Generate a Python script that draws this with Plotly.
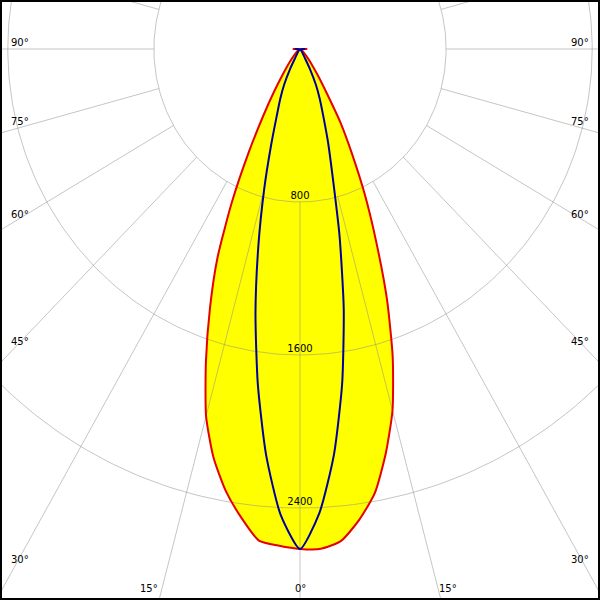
import numpy as np
import plotly.graph_objects as go

# ---- data ----
gamma = [0, 2.5, 5, 7.5, 10, 12.5, 15, 17.5, 20, 22.5, 25, 27.5, 30, 32.5, 35,
         37.5, 40, 42.5, 45, 50, 55, 60, 75, 90]
# C0-C180 plane (red, filled)
c0 = [2614, 2616, 2582, 2483, 2358, 2168, 1957, 1688, 1392, 1090, 840, 615, 440, 268, 180,
      120, 85, 56, 40, 25, 12, 4, 1, 40]
c180 = [2614, 2600, 2580, 2470, 2345, 2188, 1987, 1713, 1441, 1180, 880, 605, 400, 265, 175,
        120, 85, 56, 40, 25, 12, 4, 1, 40]
# C90-C270 plane (blue)
c90 = [2614, 2437, 2130, 1769, 1404, 1053, 757, 525, 372, 283, 205, 118, 45, 28, 18,
       13, 9, 7, 5, 4, 3, 2, 1, 28]
c270 = [2614, 2429, 2130, 1767, 1379, 1000, 690, 510, 372, 283, 205, 118, 45, 28, 18,
        13, 9, 7, 5, 4, 3, 2, 1, 28]

ring_values = [800, 1600, 2400]
ring_labels = ["800", "1600", "2400"]
side_angles = [90, 75, 60, 45, 30]
bottom_angles = [15, 0]

# ---- geometry (pixel scale of the reference) ----
SX = 146.1 / 800.0   # px per cd horizontally
SY = 153.0 / 800.0   # px per cd vertically
CX, CY = 300.0, 49.0  # centre of the diagram in page px
M = 2                 # black frame


def dx(px):
    return (px - CX) / SX


def dy(py):
    return -(py - CY) / SY


def polar_xy(vals, angs):
    a = np.radians(np.asarray(angs, dtype=float))
    v = np.asarray(vals, dtype=float)
    return v * np.sin(a), -v * np.cos(a)


g = np.asarray(gamma, dtype=float)

# red closed curve: left half (C180) then right half (C0)
angs_red = list(-g[::-1]) + list(g[1:])
vals_red = list(np.asarray(c180)[::-1]) + list(c0[1:])
xr, yr = polar_xy(vals_red, angs_red)

angs_blue = list(-g[::-1]) + list(g[1:])
vals_blue = list(np.asarray(c90)[::-1]) + list(c270[1:])
xb, yb = polar_xy(vals_blue, angs_blue)

# grid
gx, gy = [], []
t = np.radians(np.arange(0, 361, 1))
for R in ring_values:
    gx += list(R * np.sin(t)) + [None]
    gy += list(R * np.cos(t)) + [None]
for a in range(0, 360, 15):
    ar = np.radians(a)
    gx += [ring_values[0] * np.sin(ar), 5000 * np.sin(ar), None]
    gy += [-ring_values[0] * np.cos(ar), -5000 * np.cos(ar), None]

fig = go.Figure()
fig.add_trace(go.Scatter(x=xr, y=yr, mode="lines", fill="toself", fillcolor="#ffff00",
                         line=dict(width=0, color="rgba(0,0,0,0)", shape="spline", smoothing=0.6),
                         hoverinfo="skip"))
fig.add_trace(go.Scatter(x=[0] * len(ring_values),
                         y=[-R + 5.5 / SY for R in ring_values],
                         mode="text", text=ring_labels, textposition="middle center",
                         textfont=dict(family="DejaVu Sans", size=10, color="black"),
                         hoverinfo="skip"))
fig.add_trace(go.Scatter(x=gx, y=gy, mode="lines",
                         line=dict(color="rgba(140,140,140,0.5)", width=1), hoverinfo="skip"))
fig.add_trace(go.Scatter(x=xr, y=yr, mode="lines",
                         line=dict(color="#e60000", width=2, shape="spline", smoothing=0.6),
                         hoverinfo="skip"))
fig.add_trace(go.Scatter(x=xb, y=yb, mode="lines",
                         line=dict(color="#00009c", width=2, shape="spline", smoothing=0.6),
                         hoverinfo="skip"))

annotations = []
font = dict(family="DejaVu Sans", size=10, color="black")
for a in side_angles:
    ar = np.radians(a)
    Xd = abs(dx(18))
    r = Xd / np.sin(ar)
    ypx = CY + r * np.cos(ar) * SY - 7 + 8 * np.cos(ar) ** 2
    annotations.append(dict(x=dx(9), y=dy(ypx), text=f"{a}°", showarrow=False,
                            xanchor="left", yanchor="middle", font=font))
    annotations.append(dict(x=dx(591), y=dy(ypx), text=f"{a}°", showarrow=False,
                            xanchor="right", yanchor="middle", font=font))
for a in bottom_angles:
    ar = np.radians(a)
    ypx = 588
    r = (ypx - CY) / SY / np.cos(ar)
    xl = r * np.sin(ar)
    if a == 0:
        annotations.append(dict(x=0, y=dy(ypx), text=f"{a}°", showarrow=False,
                                xanchor="center", yanchor="middle", font=font))
    else:
        annotations.append(dict(x=-xl - 2 / SX, y=dy(ypx), text=f"{a}°", showarrow=False,
                                xanchor="right", yanchor="middle", font=font))
        annotations.append(dict(x=xl - 1 / SX, y=dy(ypx), text=f"{a}°", showarrow=False,
                                xanchor="left", yanchor="middle", font=font))

fig.update_layout(
    width=600, height=600,
    margin=dict(l=M, r=M, t=M, b=M, pad=0),
    paper_bgcolor="black", plot_bgcolor="white",
    showlegend=False,
    annotations=annotations,
    xaxis=dict(range=[dx(M), dx(600 - M)], visible=False, showgrid=False, zeroline=False),
    yaxis=dict(range=[dy(600 - M), dy(M)], visible=False, showgrid=False, zeroline=False),
)

fig.write_html("out.html", config={"displayModeBar": False},
               post_script="document.body.style.margin='0px';document.body.style.overflow='hidden';")
